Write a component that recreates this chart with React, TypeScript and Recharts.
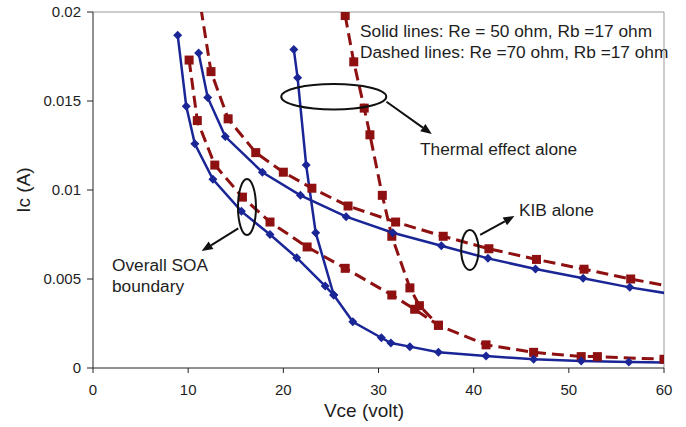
import React from "react";
import {
  LineChart,
  Line,
  XAxis,
  YAxis,
  ReferenceLine,
  ReferenceDot,
  Customized,
} from "recharts";

// Overall SOA boundary (Re = 50 ohm, solid)
const soa50Vce = [8.9, 9.8, 10.7, 12.6, 15.6, 18.6, 21.4, 24.4, 25.3, 27.3, 30.3, 31.3, 33.3, 36.3, 41.3, 46.3, 51.3, 56.3, 61.3];
const soa50Ic = [0.0187, 0.0147, 0.0126, 0.0106, 0.0088, 0.0075, 0.0062, 0.0046, 0.0041, 0.0026, 0.0017, 0.0014, 0.0012, 0.00088, 0.00067, 0.00049, 0.00039, 0.00034, 0.0003];

// Overall SOA boundary (Re = 70 ohm, dashed)
const soa70Vce = [10.1, 10.96, 12.8, 15.7, 18.6, 22.5, 26.5, 31.4, 33.8, 36.3, 41.3, 46.3, 51.3, 53.0, 60.0];
const soa70Ic = [0.0173, 0.0139, 0.0114, 0.0096, 0.0082, 0.0068, 0.0056, 0.0041, 0.0033, 0.0024, 0.0013, 0.00088, 0.00064, 0.00064, 0.00049];

// KIB alone
const kib50Vce = [11.1, 12.05, 13.9, 17.8, 21.8, 26.6, 31.5, 36.6, 41.5, 46.5, 51.5, 56.4, 61.4];
const kib50Ic = [0.0177, 0.0152, 0.013, 0.011, 0.0097, 0.0085, 0.0076, 0.00687, 0.00616, 0.00556, 0.00504, 0.00453, 0.0041];
const kib70Vce = [10.75, 12.4, 14.2, 17.1, 20.0, 23.0, 26.8, 31.8, 36.8, 41.6, 46.6, 51.6, 56.5, 61.5];
const kib70Ic = [0.0222, 0.01665, 0.014, 0.0121, 0.011, 0.0101, 0.0091, 0.0082, 0.0074, 0.0067, 0.0061, 0.00555, 0.005, 0.0045];

// Thermal effect alone
const th50Vce = [21.1, 21.5, 22.4, 23.4, 25.3];
const th50Ic = [0.0179, 0.0163, 0.0114, 0.0076, 0.0041];
const th70Vce = [26.5, 27.4, 28.5, 29.1, 30.4, 31.4, 33.3, 34.3, 36.3];
const th70Ic = [0.0198, 0.0172, 0.0146, 0.0131, 0.0097, 0.0074, 0.0045, 0.0035, 0.0024];

const xTicks = [0, 10, 20, 30, 40, 50, 60];
const yTicks = [0, 0.005, 0.01, 0.015, 0.02];

const BLUE = "#1a2596";
const RED = "#8e1010";
const TXT = "#1e1e1e";
const FONT = "'Liberation Sans', Arial, sans-serif";

const pts = (xs: number[], ys: number[]) => xs.map((x, i) => ({ x, y: ys[i] }));

const Diamond = (p: any) => {
  const { cx, cy, index } = p;
  if (cx == null || cy == null) return <g key={`d-${index}`} />;
  const s = 4.5;
  return (
    <polygon
      key={`d-${index}`}
      points={`${cx},${cy - s} ${cx + s},${cy} ${cx},${cy + s} ${cx - s},${cy}`}
      fill={BLUE}
    />
  );
};

const Square = (p: any) => {
  const { cx, cy, index } = p;
  if (cx == null || cy == null) return <g key={`s-${index}`} />;
  return <rect key={`s-${index}`} x={cx - 4.5} y={cy - 4.5} width={9} height={9} fill={RED} />;
};

// ellipse with an arrow, offsets in px relative to the ellipse centre
const callout = (rx: number, ry: number, from: [number, number], to: [number, number]) => (p: any) => {
  const { cx, cy } = p;
  const x1 = cx + from[0];
  const y1 = cy + from[1];
  const x2 = cx + to[0];
  const y2 = cy + to[1];
  const ang = Math.atan2(y2 - y1, x2 - x1);
  const len = 11;
  const w = 4.5;
  const bx = x2 - len * Math.cos(ang);
  const by = y2 - len * Math.sin(ang);
  const head = `${x2},${y2} ${bx + w * Math.sin(ang)},${by - w * Math.cos(ang)} ${bx - w * Math.sin(ang)},${by + w * Math.cos(ang)}`;
  return (
    <g>
      <ellipse cx={cx} cy={cy} rx={rx} ry={ry} fill="none" stroke="#111" strokeWidth={2} />
      <line x1={x1} y1={y1} x2={bx} y2={by} stroke="#111" strokeWidth={2} />
      <polygon points={head} fill="#111" />
    </g>
  );
};

const Notes = () => (
  <g fontFamily={FONT} fill={TXT} fontSize={17.3}>
    <text x={360} y={37}>Solid lines: Re = 50 ohm, Rb =17 ohm</text>
    <text x={360} y={58}>Dashed lines: Re =70 ohm, Rb =17 ohm</text>
    <text x={420} y={155}>Thermal effect alone</text>
    <text x={519} y={216}>KIB alone</text>
    <text x={112} y={271}>Overall SOA</text>
    <text x={112} y={292}>boundary</text>
    <text x={364} y={417} fontSize={19} textAnchor="middle">Vce (volt)</text>
    <text x={30} y={190} fontSize={19} textAnchor="middle" transform="rotate(-90, 30, 190)">Ic (A)</text>
  </g>
);

export default function App() {
  return (
    <div style={{ position: "fixed", left: 0, top: 0, width: 686, height: 427, background: "#fff" }}>
      <LineChart
        width={686}
        height={427}
        margin={{ top: 12, right: 22, bottom: 0, left: 0 }}
        style={{ fontFamily: FONT }}
      >
        <XAxis
          type="number"
          dataKey="x"
          domain={[0, 60]}
          ticks={xTicks}
          allowDataOverflow
          height={59}
          tickSize={5}
          tickMargin={11}
          axisLine={{ stroke: "#222" }}
          tickLine={{ stroke: "#222" }}
          tick={{ fill: TXT, fontSize: 15 }}
        />
        <YAxis
          type="number"
          dataKey="y"
          domain={[0, 0.02]}
          ticks={yTicks}
          allowDataOverflow
          width={93}
          tickSize={6}
          tickMargin={6}
          axisLine={{ stroke: "#222" }}
          tickLine={{ stroke: "#222" }}
          tick={{ fill: TXT, fontSize: 15 }}
        />
        <ReferenceLine y={0.02} stroke="#999" />
        <ReferenceLine x={60} stroke="#999" />

        <Line data={pts(kib70Vce, kib70Ic)} dataKey="y" stroke={RED} strokeWidth={3} strokeDasharray="12 6" dot={Square} activeDot={false} isAnimationActive={false} />
        <Line data={pts(soa70Vce, soa70Ic)} dataKey="y" stroke={RED} strokeWidth={3} strokeDasharray="12 6" dot={Square} activeDot={false} isAnimationActive={false} />
        <Line data={pts(th70Vce, th70Ic)} dataKey="y" stroke={RED} strokeWidth={3} strokeDasharray="12 6" dot={Square} activeDot={false} isAnimationActive={false} />
        <Line data={pts(kib50Vce, kib50Ic)} dataKey="y" stroke={BLUE} strokeWidth={2.5} dot={Diamond} activeDot={false} isAnimationActive={false} />
        <Line data={pts(soa50Vce, soa50Ic)} dataKey="y" stroke={BLUE} strokeWidth={2.5} dot={Diamond} activeDot={false} isAnimationActive={false} />
        <Line data={pts(th50Vce, th50Ic)} dataKey="y" stroke={BLUE} strokeWidth={2.5} dot={Diamond} activeDot={false} isAnimationActive={false} />

        <ReferenceDot x={16.18} y={0.00904} shape={callout(9, 28, [-8.7, 21.3], [-45.3, 44])} />
        <ReferenceDot x={25.3} y={0.01524} shape={callout(52.5, 12.7, [52.7, 5], [98, 37.3])} />
        <ReferenceDot x={39.6} y={0.00663} shape={callout(8.7, 20, [10.3, -15], [44.6, -34])} />

        <Customized component={<Notes />} />
      </LineChart>
    </div>
  );
}
